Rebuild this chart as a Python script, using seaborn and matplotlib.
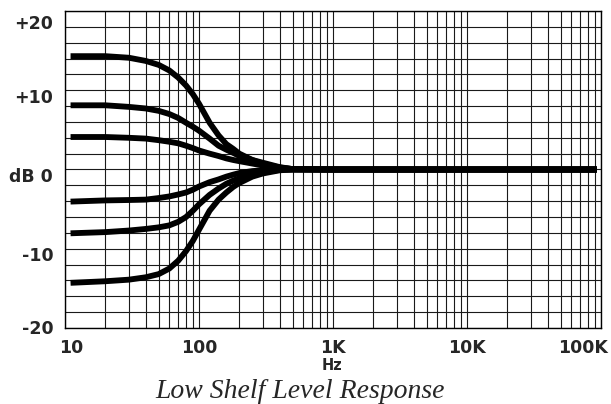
import numpy as np
import pandas as pd
import matplotlib.pyplot as plt
import matplotlib.transforms as mtransforms
from matplotlib.ticker import LogLocator, MultipleLocator, NullFormatter
import seaborn as sns

# ── data (frequency in Hz, level in dB) ──
freq = [11, 20, 30, 40, 50, 60, 70, 80, 90, 100, 120, 140, 160,
        180, 200, 250, 300, 400, 500, 1000, 93000]

boost_14 = [14.3, 14.3, 14.1, 13.7, 13.2, 12.5, 11.6, 10.6, 9.5, 8.3,
            5.9, 4.3, 3.2, 2.6, 2.0, 1.2, 0.7, 0.25, 0.05, 0, 0]
boost_8 = [8.1, 8.1, 7.9, 7.7, 7.4, 7.0, 6.5, 5.9, 5.4, 4.9,
           3.9, 3.0, 2.5, 2.1, 1.7, 1.2, 0.85, 0.3, 0.05, 0, 0]
boost_4 = [4.1, 4.1, 4.0, 3.9, 3.7, 3.5, 3.3, 3.0, 2.7, 2.4,
           2.0, 1.7, 1.4, 1.2, 1.05, 0.75, 0.5, 0.2, 0.05, 0, 0]
cut_4 = [-4.05, -3.9, -3.85, -3.8, -3.6, -3.4, -3.15, -2.9, -2.55, -2.15,
         -1.6, -1.25, -0.9, -0.65, -0.45, -0.2, -0.1, 0, 0, 0, 0]
cut_8 = [-8.05, -7.9, -7.7, -7.5, -7.3, -7.05, -6.6, -6.0, -5.2, -4.4,
         -3.2, -2.4, -1.8, -1.4, -1.1, -0.55, -0.3, -0.05, 0, 0, 0]
cut_14 = [-14.3, -14.1, -13.9, -13.6, -13.2, -12.5, -11.5, -10.3, -9.0, -7.6,
          -5.2, -3.8, -2.9, -2.2, -1.7, -0.9, -0.5, -0.1, 0, 0, 0]

curves = {'+14': boost_14, '+8': boost_8, '+4': boost_4,
          '-4': cut_4, '-8': cut_8, '-14': cut_14}

x_ticks = [10, 100, 1000, 10000, 100000]
x_labels = ['10', '100', '1K', '10K', '100K']
y_label_pos = [18.6, 9.25, -0.75, -10.6, -19.9]
y_labels = ['+20', '+10', 'dB 0', '-10', '-20']

# ── figure ──
sns.set_style('white')
plt.rcParams['font.family'] = ['DejaVu Sans']

fig = plt.figure(figsize=(6.11, 4.04), dpi=100)
ax = fig.add_axes([0.1064, 0.1881, 0.8772, 0.7847])

for name, vals in curves.items():
    df = pd.DataFrame({'f': freq, 'db': vals})
    sns.lineplot(data=df, x='f', y='db', ax=ax, color='black',
                 linewidth=4.2, sort=False, estimator=None,
                 solid_capstyle='butt', zorder=3)

ax.set_xscale('log')
ax.set_xlim(10, 100000)
ax.set_ylim(-20, 20)
ax.set_xlabel('')
ax.set_ylabel('')

# grid: every log subdivision on x, every 2 dB on y
ax.xaxis.set_minor_locator(LogLocator(base=10, subs=np.arange(2, 10),
                                      numticks=50))
ax.xaxis.set_minor_formatter(NullFormatter())
ax.set_xticks(x_ticks)
ax.set_xticklabels(x_labels)
ax.yaxis.set_minor_locator(MultipleLocator(2))
ax.set_yticks(y_label_pos)
ax.set_yticklabels(y_labels)

ax.grid(False)
ax.grid(axis='x', which='both', color='#1a1a1a', linewidth=0.8)
ax.grid(axis='y', which='minor', color='#1a1a1a', linewidth=0.8)
ax.set_axisbelow(True)

ax.tick_params(which='both', length=0)
ax.tick_params(axis='y', pad=8.5, labelsize=12.5)
ax.tick_params(axis='x', pad=8, labelsize=12.5)
for lab in ax.get_xticklabels() + ax.get_yticklabels():
    lab.set_fontweight('bold')

# nudge the end labels so they sit inside the frame
xl = ax.get_xticklabels()
shift = {0: 6, 4: -18}
for i, dx in shift.items():
    off = mtransforms.ScaledTranslation(dx / 100, 0, fig.dpi_scale_trans)
    xl[i].set_transform(xl[i].get_transform() + off)

for sp in ax.spines.values():
    sp.set_color('black')
    sp.set_linewidth(1.0)
    sp.set_visible(True)

fig.text(332 / 611, 1 - 365 / 404, 'Hz', ha='center', va='center',
         fontsize=10.5, fontweight='bold')
fig.text(300 / 611, 1 - 391 / 404, 'Low Shelf Level Response',
         ha='center', va='center', fontsize=20, style='italic',
         family='Liberation Serif')

fig.savefig('out.png', dpi=100)
